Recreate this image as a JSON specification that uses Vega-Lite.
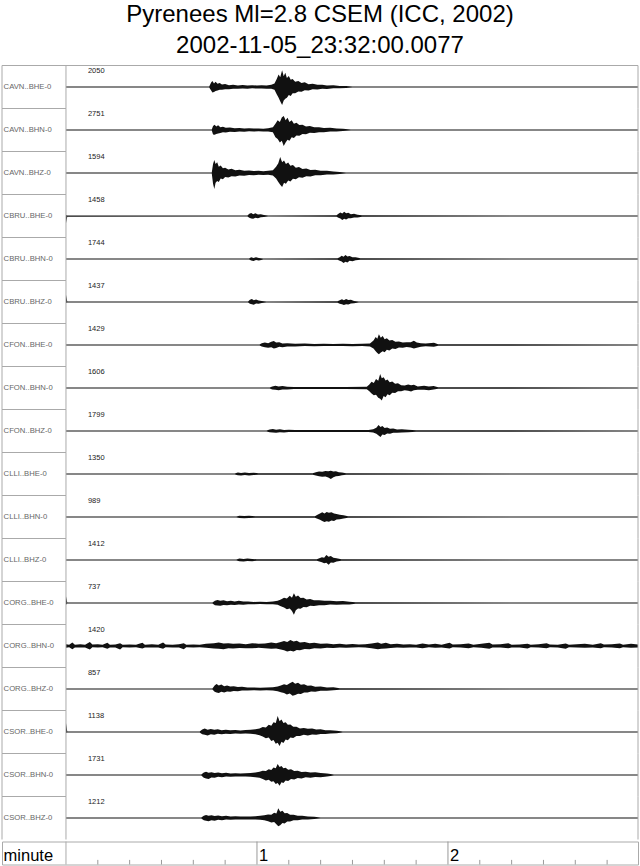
{
  "$schema": "https://vega.github.io/schema/vega-lite/v6.json",
  "padding": {"left": 1, "top": 2.5, "right": 3, "bottom": 2},
  "background": "white",
  "title": {
    "text": ["Pyrenees Ml=2.8 CSEM (ICC, 2002)", "2002-11-05_23:32:00.0077"],
    "font": "Liberation Sans",
    "fontSize": 24,
    "fontWeight": "normal",
    "color": "black",
    "lineHeight": 30.5,
    "anchor": "middle",
    "offset": 7.5
  },
  "config": {
    "view": {"stroke": null},
    "text": {"font": "Liberation Sans"}
  },
  "datasets": {
    "traces": [
      {"s": "CAVN..BHE-0", "n": 2050},
      {"s": "CAVN..BHN-0", "n": 2751},
      {"s": "CAVN..BHZ-0", "n": 1594},
      {"s": "CBRU..BHE-0", "n": 1458},
      {"s": "CBRU..BHN-0", "n": 1744},
      {"s": "CBRU..BHZ-0", "n": 1437},
      {"s": "CFON..BHE-0", "n": 1429},
      {"s": "CFON..BHN-0", "n": 1606},
      {"s": "CFON..BHZ-0", "n": 1799},
      {"s": "CLLI..BHE-0", "n": 1350},
      {"s": "CLLI..BHN-0", "n": 989},
      {"s": "CLLI..BHZ-0", "n": 1412},
      {"s": "CORG..BHE-0", "n": 737},
      {"s": "CORG..BHN-0", "n": 1420},
      {"s": "CORG..BHZ-0", "n": 857},
      {"s": "CSOR..BHE-0", "n": 1138},
      {"s": "CSOR..BHN-0", "n": 1731},
      {"s": "CSOR..BHZ-0", "n": 1212},

      {"s": "CAVN..BHE-0", "t": 0, "h": 0.03, "l": -0.03},
      {"s": "CAVN..BHE-0", "t": 45.0, "h": 0.03, "l": -0.03},
      {"s": "CAVN..BHE-0", "t": 45.6, "h": 0.25, "l": -0.2},
      {"s": "CAVN..BHE-0", "t": 46.0, "h": 0.33, "l": -0.3},
      {"s": "CAVN..BHE-0", "t": 46.5, "h": 0.2, "l": -0.28},
      {"s": "CAVN..BHE-0", "t": 47.0, "h": 0.3, "l": -0.22},
      {"s": "CAVN..BHE-0", "t": 47.6, "h": 0.18, "l": -0.2},
      {"s": "CAVN..BHE-0", "t": 48.3, "h": 0.22, "l": -0.15},
      {"s": "CAVN..BHE-0", "t": 49.0, "h": 0.14, "l": -0.16},
      {"s": "CAVN..BHE-0", "t": 50.0, "h": 0.17, "l": -0.12},
      {"s": "CAVN..BHE-0", "t": 51.2, "h": 0.1, "l": -0.13},
      {"s": "CAVN..BHE-0", "t": 52.5, "h": 0.13, "l": -0.1},
      {"s": "CAVN..BHE-0", "t": 54.0, "h": 0.09, "l": -0.1},
      {"s": "CAVN..BHE-0", "t": 55.5, "h": 0.11, "l": -0.08},
      {"s": "CAVN..BHE-0", "t": 57.0, "h": 0.08, "l": -0.1},
      {"s": "CAVN..BHE-0", "t": 58.5, "h": 0.1, "l": -0.07},
      {"s": "CAVN..BHE-0", "t": 60.0, "h": 0.08, "l": -0.09},
      {"s": "CAVN..BHE-0", "t": 61.5, "h": 0.1, "l": -0.08},
      {"s": "CAVN..BHE-0", "t": 63.0, "h": 0.09, "l": -0.1},
      {"s": "CAVN..BHE-0", "t": 64.5, "h": 0.12, "l": -0.1},
      {"s": "CAVN..BHE-0", "t": 65.5, "h": 0.2, "l": -0.15},
      {"s": "CAVN..BHE-0", "t": 66.2, "h": 0.45, "l": -0.4},
      {"s": "CAVN..BHE-0", "t": 66.8, "h": 0.7, "l": -0.6},
      {"s": "CAVN..BHE-0", "t": 67.3, "h": 0.55, "l": -0.8},
      {"s": "CAVN..BHE-0", "t": 67.9, "h": 0.94, "l": -1.0},
      {"s": "CAVN..BHE-0", "t": 68.4, "h": 0.6, "l": -0.75},
      {"s": "CAVN..BHE-0", "t": 68.9, "h": 0.8, "l": -0.65},
      {"s": "CAVN..BHE-0", "t": 69.4, "h": 0.5, "l": -0.6},
      {"s": "CAVN..BHE-0", "t": 70.0, "h": 0.62, "l": -0.45},
      {"s": "CAVN..BHE-0", "t": 70.6, "h": 0.4, "l": -0.5},
      {"s": "CAVN..BHE-0", "t": 71.2, "h": 0.45, "l": -0.35},
      {"s": "CAVN..BHE-0", "t": 72.0, "h": 0.3, "l": -0.35},
      {"s": "CAVN..BHE-0", "t": 73.0, "h": 0.33, "l": -0.25},
      {"s": "CAVN..BHE-0", "t": 74.0, "h": 0.22, "l": -0.26},
      {"s": "CAVN..BHE-0", "t": 75.0, "h": 0.26, "l": -0.18},
      {"s": "CAVN..BHE-0", "t": 76.2, "h": 0.16, "l": -0.2},
      {"s": "CAVN..BHE-0", "t": 77.5, "h": 0.18, "l": -0.13},
      {"s": "CAVN..BHE-0", "t": 79.0, "h": 0.12, "l": -0.14},
      {"s": "CAVN..BHE-0", "t": 80.5, "h": 0.13, "l": -0.1},
      {"s": "CAVN..BHE-0", "t": 82.0, "h": 0.09, "l": -0.11},
      {"s": "CAVN..BHE-0", "t": 84.0, "h": 0.1, "l": -0.07},
      {"s": "CAVN..BHE-0", "t": 86.0, "h": 0.06, "l": -0.07},
      {"s": "CAVN..BHE-0", "t": 88.0, "h": 0.05, "l": -0.05},
      {"s": "CAVN..BHE-0", "t": 90.0, "h": 0.03, "l": -0.03},
      {"s": "CAVN..BHE-0", "t": 179.7, "h": 0.03, "l": -0.03},

      {"s": "CAVN..BHN-0", "t": 0, "h": 0.03, "l": -0.03},
      {"s": "CAVN..BHN-0", "t": 45.8, "h": 0.03, "l": -0.03},
      {"s": "CAVN..BHN-0", "t": 46.2, "h": 0.22, "l": -0.25},
      {"s": "CAVN..BHN-0", "t": 46.7, "h": 0.3, "l": -0.27},
      {"s": "CAVN..BHN-0", "t": 47.2, "h": 0.2, "l": -0.22},
      {"s": "CAVN..BHN-0", "t": 47.8, "h": 0.26, "l": -0.2},
      {"s": "CAVN..BHN-0", "t": 48.5, "h": 0.15, "l": -0.17},
      {"s": "CAVN..BHN-0", "t": 49.3, "h": 0.18, "l": -0.13},
      {"s": "CAVN..BHN-0", "t": 50.2, "h": 0.12, "l": -0.14},
      {"s": "CAVN..BHN-0", "t": 51.5, "h": 0.14, "l": -0.1},
      {"s": "CAVN..BHN-0", "t": 53.0, "h": 0.1, "l": -0.11},
      {"s": "CAVN..BHN-0", "t": 54.5, "h": 0.11, "l": -0.08},
      {"s": "CAVN..BHN-0", "t": 56.0, "h": 0.08, "l": -0.1},
      {"s": "CAVN..BHN-0", "t": 57.5, "h": 0.1, "l": -0.07},
      {"s": "CAVN..BHN-0", "t": 59.0, "h": 0.08, "l": -0.09},
      {"s": "CAVN..BHN-0", "t": 60.5, "h": 0.09, "l": -0.07},
      {"s": "CAVN..BHN-0", "t": 62.0, "h": 0.07, "l": -0.08},
      {"s": "CAVN..BHN-0", "t": 63.5, "h": 0.1, "l": -0.08},
      {"s": "CAVN..BHN-0", "t": 65.0, "h": 0.15, "l": -0.12},
      {"s": "CAVN..BHN-0", "t": 65.8, "h": 0.35, "l": -0.4},
      {"s": "CAVN..BHN-0", "t": 66.5, "h": 0.55, "l": -0.5},
      {"s": "CAVN..BHN-0", "t": 67.2, "h": 0.45, "l": -0.7},
      {"s": "CAVN..BHN-0", "t": 67.8, "h": 0.7, "l": -0.6},
      {"s": "CAVN..BHN-0", "t": 68.4, "h": 0.78, "l": -0.89},
      {"s": "CAVN..BHN-0", "t": 69.0, "h": 0.55, "l": -0.7},
      {"s": "CAVN..BHN-0", "t": 69.6, "h": 0.68, "l": -0.55},
      {"s": "CAVN..BHN-0", "t": 70.2, "h": 0.45, "l": -0.6},
      {"s": "CAVN..BHN-0", "t": 70.9, "h": 0.55, "l": -0.4},
      {"s": "CAVN..BHN-0", "t": 71.6, "h": 0.35, "l": -0.45},
      {"s": "CAVN..BHN-0", "t": 72.4, "h": 0.4, "l": -0.3},
      {"s": "CAVN..BHN-0", "t": 73.3, "h": 0.28, "l": -0.32},
      {"s": "CAVN..BHN-0", "t": 74.3, "h": 0.3, "l": -0.22},
      {"s": "CAVN..BHN-0", "t": 75.4, "h": 0.2, "l": -0.24},
      {"s": "CAVN..BHN-0", "t": 76.6, "h": 0.22, "l": -0.16},
      {"s": "CAVN..BHN-0", "t": 78.0, "h": 0.15, "l": -0.17},
      {"s": "CAVN..BHN-0", "t": 79.5, "h": 0.16, "l": -0.12},
      {"s": "CAVN..BHN-0", "t": 81.0, "h": 0.11, "l": -0.13},
      {"s": "CAVN..BHN-0", "t": 83.0, "h": 0.12, "l": -0.09},
      {"s": "CAVN..BHN-0", "t": 85.0, "h": 0.08, "l": -0.09},
      {"s": "CAVN..BHN-0", "t": 87.0, "h": 0.07, "l": -0.06},
      {"s": "CAVN..BHN-0", "t": 89.5, "h": 0.03, "l": -0.03},
      {"s": "CAVN..BHN-0", "t": 179.7, "h": 0.03, "l": -0.03},

      {"s": "CAVN..BHZ-0", "t": 0, "h": 0.03, "l": -0.03},
      {"s": "CAVN..BHZ-0", "t": 45.8, "h": 0.03, "l": -0.03},
      {"s": "CAVN..BHZ-0", "t": 46.2, "h": 0.5, "l": -0.6},
      {"s": "CAVN..BHZ-0", "t": 46.6, "h": 0.72, "l": -0.89},
      {"s": "CAVN..BHZ-0", "t": 47.0, "h": 0.5, "l": -0.55},
      {"s": "CAVN..BHZ-0", "t": 47.5, "h": 0.6, "l": -0.45},
      {"s": "CAVN..BHZ-0", "t": 48.0, "h": 0.35, "l": -0.5},
      {"s": "CAVN..BHZ-0", "t": 48.6, "h": 0.42, "l": -0.3},
      {"s": "CAVN..BHZ-0", "t": 49.3, "h": 0.27, "l": -0.35},
      {"s": "CAVN..BHZ-0", "t": 50.0, "h": 0.3, "l": -0.22},
      {"s": "CAVN..BHZ-0", "t": 51.0, "h": 0.2, "l": -0.25},
      {"s": "CAVN..BHZ-0", "t": 52.0, "h": 0.24, "l": -0.18},
      {"s": "CAVN..BHZ-0", "t": 53.2, "h": 0.16, "l": -0.19},
      {"s": "CAVN..BHZ-0", "t": 54.5, "h": 0.18, "l": -0.14},
      {"s": "CAVN..BHZ-0", "t": 56.0, "h": 0.13, "l": -0.15},
      {"s": "CAVN..BHZ-0", "t": 57.5, "h": 0.14, "l": -0.11},
      {"s": "CAVN..BHZ-0", "t": 59.0, "h": 0.11, "l": -0.12},
      {"s": "CAVN..BHZ-0", "t": 60.5, "h": 0.12, "l": -0.1},
      {"s": "CAVN..BHZ-0", "t": 62.0, "h": 0.1, "l": -0.11},
      {"s": "CAVN..BHZ-0", "t": 63.5, "h": 0.12, "l": -0.1},
      {"s": "CAVN..BHZ-0", "t": 65.0, "h": 0.16, "l": -0.14},
      {"s": "CAVN..BHZ-0", "t": 66.0, "h": 0.35, "l": -0.3},
      {"s": "CAVN..BHZ-0", "t": 66.7, "h": 0.55, "l": -0.5},
      {"s": "CAVN..BHZ-0", "t": 67.3, "h": 0.89, "l": -0.65},
      {"s": "CAVN..BHZ-0", "t": 67.9, "h": 0.6, "l": -0.78},
      {"s": "CAVN..BHZ-0", "t": 68.5, "h": 0.7, "l": -0.55},
      {"s": "CAVN..BHZ-0", "t": 69.1, "h": 0.5, "l": -0.6},
      {"s": "CAVN..BHZ-0", "t": 69.8, "h": 0.58, "l": -0.42},
      {"s": "CAVN..BHZ-0", "t": 70.5, "h": 0.4, "l": -0.48},
      {"s": "CAVN..BHZ-0", "t": 71.3, "h": 0.45, "l": -0.32},
      {"s": "CAVN..BHZ-0", "t": 72.2, "h": 0.3, "l": -0.35},
      {"s": "CAVN..BHZ-0", "t": 73.2, "h": 0.33, "l": -0.24},
      {"s": "CAVN..BHZ-0", "t": 74.3, "h": 0.23, "l": -0.26},
      {"s": "CAVN..BHZ-0", "t": 75.5, "h": 0.25, "l": -0.18},
      {"s": "CAVN..BHZ-0", "t": 76.8, "h": 0.17, "l": -0.19},
      {"s": "CAVN..BHZ-0", "t": 78.3, "h": 0.18, "l": -0.13},
      {"s": "CAVN..BHZ-0", "t": 80.0, "h": 0.12, "l": -0.13},
      {"s": "CAVN..BHZ-0", "t": 82.0, "h": 0.12, "l": -0.09},
      {"s": "CAVN..BHZ-0", "t": 84.0, "h": 0.08, "l": -0.09},
      {"s": "CAVN..BHZ-0", "t": 86.0, "h": 0.06, "l": -0.06},
      {"s": "CAVN..BHZ-0", "t": 88.0, "h": 0.03, "l": -0.03},
      {"s": "CAVN..BHZ-0", "t": 179.7, "h": 0.03, "l": -0.03},

      {"s": "CBRU..BHE-0", "t": 0, "h": 0.05, "l": -0.4},
      {"s": "CBRU..BHE-0", "t": 0.4, "h": 0.03, "l": -0.04},
      {"s": "CBRU..BHE-0", "t": 57.0, "h": 0.03, "l": -0.03},
      {"s": "CBRU..BHE-0", "t": 57.6, "h": 0.12, "l": -0.1},
      {"s": "CBRU..BHE-0", "t": 58.2, "h": 0.17, "l": -0.14},
      {"s": "CBRU..BHE-0", "t": 58.8, "h": 0.1, "l": -0.16},
      {"s": "CBRU..BHE-0", "t": 59.5, "h": 0.15, "l": -0.1},
      {"s": "CBRU..BHE-0", "t": 60.3, "h": 0.08, "l": -0.12},
      {"s": "CBRU..BHE-0", "t": 61.2, "h": 0.1, "l": -0.07},
      {"s": "CBRU..BHE-0", "t": 62.2, "h": 0.05, "l": -0.06},
      {"s": "CBRU..BHE-0", "t": 63.5, "h": 0.03, "l": -0.03},
      {"s": "CBRU..BHE-0", "t": 85.0, "h": 0.04, "l": -0.04},
      {"s": "CBRU..BHE-0", "t": 85.6, "h": 0.12, "l": -0.1},
      {"s": "CBRU..BHE-0", "t": 86.2, "h": 0.2, "l": -0.14},
      {"s": "CBRU..BHE-0", "t": 86.8, "h": 0.14, "l": -0.22},
      {"s": "CBRU..BHE-0", "t": 87.4, "h": 0.24, "l": -0.16},
      {"s": "CBRU..BHE-0", "t": 88.0, "h": 0.15, "l": -0.2},
      {"s": "CBRU..BHE-0", "t": 88.7, "h": 0.18, "l": -0.12},
      {"s": "CBRU..BHE-0", "t": 89.5, "h": 0.1, "l": -0.13},
      {"s": "CBRU..BHE-0", "t": 90.5, "h": 0.12, "l": -0.08},
      {"s": "CBRU..BHE-0", "t": 91.6, "h": 0.07, "l": -0.08},
      {"s": "CBRU..BHE-0", "t": 93.0, "h": 0.04, "l": -0.04},
      {"s": "CBRU..BHE-0", "t": 179.7, "h": 0.03, "l": -0.03},

      {"s": "CBRU..BHN-0", "t": 0, "h": 0.03, "l": -0.03},
      {"s": "CBRU..BHN-0", "t": 57.5, "h": 0.03, "l": -0.03},
      {"s": "CBRU..BHN-0", "t": 58.2, "h": 0.1, "l": -0.08},
      {"s": "CBRU..BHN-0", "t": 58.9, "h": 0.06, "l": -0.11},
      {"s": "CBRU..BHN-0", "t": 59.7, "h": 0.1, "l": -0.06},
      {"s": "CBRU..BHN-0", "t": 60.6, "h": 0.05, "l": -0.08},
      {"s": "CBRU..BHN-0", "t": 62.0, "h": 0.03, "l": -0.03},
      {"s": "CBRU..BHN-0", "t": 85.3, "h": 0.04, "l": -0.04},
      {"s": "CBRU..BHN-0", "t": 86.0, "h": 0.1, "l": -0.1},
      {"s": "CBRU..BHN-0", "t": 86.6, "h": 0.18, "l": -0.14},
      {"s": "CBRU..BHN-0", "t": 87.2, "h": 0.12, "l": -0.22},
      {"s": "CBRU..BHN-0", "t": 87.8, "h": 0.22, "l": -0.15},
      {"s": "CBRU..BHN-0", "t": 88.4, "h": 0.14, "l": -0.2},
      {"s": "CBRU..BHN-0", "t": 89.1, "h": 0.17, "l": -0.1},
      {"s": "CBRU..BHN-0", "t": 90.0, "h": 0.1, "l": -0.12},
      {"s": "CBRU..BHN-0", "t": 91.0, "h": 0.1, "l": -0.07},
      {"s": "CBRU..BHN-0", "t": 92.5, "h": 0.04, "l": -0.04},
      {"s": "CBRU..BHN-0", "t": 179.7, "h": 0.03, "l": -0.03},

      {"s": "CBRU..BHZ-0", "t": 0, "h": 0.4, "l": -0.05},
      {"s": "CBRU..BHZ-0", "t": 0.4, "h": 0.03, "l": -0.03},
      {"s": "CBRU..BHZ-0", "t": 57.2, "h": 0.03, "l": -0.03},
      {"s": "CBRU..BHZ-0", "t": 57.8, "h": 0.12, "l": -0.1},
      {"s": "CBRU..BHZ-0", "t": 58.4, "h": 0.17, "l": -0.12},
      {"s": "CBRU..BHZ-0", "t": 59.0, "h": 0.1, "l": -0.16},
      {"s": "CBRU..BHZ-0", "t": 59.7, "h": 0.14, "l": -0.09},
      {"s": "CBRU..BHZ-0", "t": 60.5, "h": 0.08, "l": -0.1},
      {"s": "CBRU..BHZ-0", "t": 61.5, "h": 0.05, "l": -0.06},
      {"s": "CBRU..BHZ-0", "t": 63.0, "h": 0.03, "l": -0.03},
      {"s": "CBRU..BHZ-0", "t": 85.3, "h": 0.04, "l": -0.04},
      {"s": "CBRU..BHZ-0", "t": 86.0, "h": 0.1, "l": -0.1},
      {"s": "CBRU..BHZ-0", "t": 86.7, "h": 0.15, "l": -0.12},
      {"s": "CBRU..BHZ-0", "t": 87.3, "h": 0.1, "l": -0.17},
      {"s": "CBRU..BHZ-0", "t": 88.0, "h": 0.17, "l": -0.12},
      {"s": "CBRU..BHZ-0", "t": 88.7, "h": 0.11, "l": -0.14},
      {"s": "CBRU..BHZ-0", "t": 89.5, "h": 0.12, "l": -0.08},
      {"s": "CBRU..BHZ-0", "t": 90.5, "h": 0.06, "l": -0.07},
      {"s": "CBRU..BHZ-0", "t": 92.0, "h": 0.03, "l": -0.03},
      {"s": "CBRU..BHZ-0", "t": 179.7, "h": 0.03, "l": -0.03},

      {"s": "CFON..BHE-0", "t": 0, "h": 0.03, "l": -0.03},
      {"s": "CFON..BHE-0", "t": 60.8, "h": 0.03, "l": -0.03},
      {"s": "CFON..BHE-0", "t": 61.5, "h": 0.1, "l": -0.08},
      {"s": "CFON..BHE-0", "t": 62.5, "h": 0.14, "l": -0.12},
      {"s": "CFON..BHE-0", "t": 63.5, "h": 0.1, "l": -0.15},
      {"s": "CFON..BHE-0", "t": 64.5, "h": 0.18, "l": -0.12},
      {"s": "CFON..BHE-0", "t": 65.3, "h": 0.22, "l": -0.2},
      {"s": "CFON..BHE-0", "t": 66.0, "h": 0.14, "l": -0.17},
      {"s": "CFON..BHE-0", "t": 67.0, "h": 0.15, "l": -0.1},
      {"s": "CFON..BHE-0", "t": 68.0, "h": 0.09, "l": -0.12},
      {"s": "CFON..BHE-0", "t": 69.5, "h": 0.1, "l": -0.08},
      {"s": "CFON..BHE-0", "t": 72.0, "h": 0.07, "l": -0.08},
      {"s": "CFON..BHE-0", "t": 75.0, "h": 0.08, "l": -0.06},
      {"s": "CFON..BHE-0", "t": 78.0, "h": 0.06, "l": -0.07},
      {"s": "CFON..BHE-0", "t": 81.0, "h": 0.07, "l": -0.06},
      {"s": "CFON..BHE-0", "t": 84.0, "h": 0.06, "l": -0.06},
      {"s": "CFON..BHE-0", "t": 87.0, "h": 0.07, "l": -0.06},
      {"s": "CFON..BHE-0", "t": 90.0, "h": 0.06, "l": -0.07},
      {"s": "CFON..BHE-0", "t": 93.0, "h": 0.07, "l": -0.06},
      {"s": "CFON..BHE-0", "t": 95.5, "h": 0.09, "l": -0.08},
      {"s": "CFON..BHE-0", "t": 96.6, "h": 0.25, "l": -0.2},
      {"s": "CFON..BHE-0", "t": 97.3, "h": 0.45, "l": -0.35},
      {"s": "CFON..BHE-0", "t": 97.8, "h": 0.35, "l": -0.45},
      {"s": "CFON..BHE-0", "t": 98.3, "h": 0.6, "l": -0.52},
      {"s": "CFON..BHE-0", "t": 98.9, "h": 0.4, "l": -0.42},
      {"s": "CFON..BHE-0", "t": 99.5, "h": 0.5, "l": -0.35},
      {"s": "CFON..BHE-0", "t": 100.1, "h": 0.32, "l": -0.4},
      {"s": "CFON..BHE-0", "t": 100.8, "h": 0.38, "l": -0.26},
      {"s": "CFON..BHE-0", "t": 101.6, "h": 0.25, "l": -0.3},
      {"s": "CFON..BHE-0", "t": 102.5, "h": 0.28, "l": -0.2},
      {"s": "CFON..BHE-0", "t": 103.5, "h": 0.18, "l": -0.22},
      {"s": "CFON..BHE-0", "t": 104.6, "h": 0.2, "l": -0.14},
      {"s": "CFON..BHE-0", "t": 105.8, "h": 0.14, "l": -0.16},
      {"s": "CFON..BHE-0", "t": 107.0, "h": 0.15, "l": -0.11},
      {"s": "CFON..BHE-0", "t": 108.3, "h": 0.16, "l": -0.14},
      {"s": "CFON..BHE-0", "t": 109.3, "h": 0.24, "l": -0.2},
      {"s": "CFON..BHE-0", "t": 110.2, "h": 0.14, "l": -0.16},
      {"s": "CFON..BHE-0", "t": 111.5, "h": 0.1, "l": -0.1},
      {"s": "CFON..BHE-0", "t": 113.0, "h": 0.08, "l": -0.07},
      {"s": "CFON..BHE-0", "t": 115.6, "h": 0.13, "l": -0.1},
      {"s": "CFON..BHE-0", "t": 116.9, "h": 0.04, "l": -0.04},
      {"s": "CFON..BHE-0", "t": 179.7, "h": 0.03, "l": -0.03},

      {"s": "CFON..BHN-0", "t": 0, "h": 0.03, "l": -0.03},
      {"s": "CFON..BHN-0", "t": 64.0, "h": 0.03, "l": -0.03},
      {"s": "CFON..BHN-0", "t": 64.8, "h": 0.09, "l": -0.08},
      {"s": "CFON..BHN-0", "t": 65.8, "h": 0.12, "l": -0.1},
      {"s": "CFON..BHN-0", "t": 66.8, "h": 0.08, "l": -0.12},
      {"s": "CFON..BHN-0", "t": 68.0, "h": 0.11, "l": -0.08},
      {"s": "CFON..BHN-0", "t": 69.5, "h": 0.07, "l": -0.09},
      {"s": "CFON..BHN-0", "t": 71.6, "h": 0.05, "l": -0.05},
      {"s": "CFON..BHN-0", "t": 80.0, "h": 0.06, "l": -0.06},
      {"s": "CFON..BHN-0", "t": 88.0, "h": 0.06, "l": -0.05},
      {"s": "CFON..BHN-0", "t": 94.5, "h": 0.07, "l": -0.07},
      {"s": "CFON..BHN-0", "t": 95.3, "h": 0.2, "l": -0.18},
      {"s": "CFON..BHN-0", "t": 96.0, "h": 0.35, "l": -0.3},
      {"s": "CFON..BHN-0", "t": 96.7, "h": 0.28, "l": -0.4},
      {"s": "CFON..BHN-0", "t": 97.4, "h": 0.5, "l": -0.38},
      {"s": "CFON..BHN-0", "t": 98.1, "h": 0.4, "l": -0.55},
      {"s": "CFON..BHN-0", "t": 98.7, "h": 0.78, "l": -0.6},
      {"s": "CFON..BHN-0", "t": 99.2, "h": 0.55, "l": -0.7},
      {"s": "CFON..BHN-0", "t": 99.8, "h": 0.6, "l": -0.45},
      {"s": "CFON..BHN-0", "t": 100.4, "h": 0.42, "l": -0.52},
      {"s": "CFON..BHN-0", "t": 101.0, "h": 0.48, "l": -0.35},
      {"s": "CFON..BHN-0", "t": 101.7, "h": 0.32, "l": -0.4},
      {"s": "CFON..BHN-0", "t": 102.5, "h": 0.36, "l": -0.26},
      {"s": "CFON..BHN-0", "t": 103.4, "h": 0.24, "l": -0.28},
      {"s": "CFON..BHN-0", "t": 104.3, "h": 0.26, "l": -0.18},
      {"s": "CFON..BHN-0", "t": 105.3, "h": 0.16, "l": -0.18},
      {"s": "CFON..BHN-0", "t": 106.4, "h": 0.14, "l": -0.12},
      {"s": "CFON..BHN-0", "t": 107.5, "h": 0.2, "l": -0.16},
      {"s": "CFON..BHN-0", "t": 108.4, "h": 0.15, "l": -0.2},
      {"s": "CFON..BHN-0", "t": 109.3, "h": 0.18, "l": -0.12},
      {"s": "CFON..BHN-0", "t": 110.5, "h": 0.09, "l": -0.1},
      {"s": "CFON..BHN-0", "t": 112.5, "h": 0.12, "l": -0.1},
      {"s": "CFON..BHN-0", "t": 114.0, "h": 0.08, "l": -0.12},
      {"s": "CFON..BHN-0", "t": 115.5, "h": 0.11, "l": -0.08},
      {"s": "CFON..BHN-0", "t": 116.9, "h": 0.04, "l": -0.04},
      {"s": "CFON..BHN-0", "t": 179.7, "h": 0.03, "l": -0.03},

      {"s": "CFON..BHZ-0", "t": 0, "h": 0.03, "l": -0.03},
      {"s": "CFON..BHZ-0", "t": 63.0, "h": 0.03, "l": -0.03},
      {"s": "CFON..BHZ-0", "t": 64.0, "h": 0.08, "l": -0.07},
      {"s": "CFON..BHZ-0", "t": 65.0, "h": 0.11, "l": -0.09},
      {"s": "CFON..BHZ-0", "t": 66.0, "h": 0.07, "l": -0.1},
      {"s": "CFON..BHZ-0", "t": 67.2, "h": 0.1, "l": -0.07},
      {"s": "CFON..BHZ-0", "t": 68.5, "h": 0.06, "l": -0.08},
      {"s": "CFON..BHZ-0", "t": 70.0, "h": 0.07, "l": -0.06},
      {"s": "CFON..BHZ-0", "t": 72.0, "h": 0.05, "l": -0.05},
      {"s": "CFON..BHZ-0", "t": 85.0, "h": 0.06, "l": -0.06},
      {"s": "CFON..BHZ-0", "t": 95.0, "h": 0.06, "l": -0.06},
      {"s": "CFON..BHZ-0", "t": 96.5, "h": 0.1, "l": -0.09},
      {"s": "CFON..BHZ-0", "t": 97.5, "h": 0.18, "l": -0.15},
      {"s": "CFON..BHZ-0", "t": 98.2, "h": 0.33, "l": -0.25},
      {"s": "CFON..BHZ-0", "t": 98.8, "h": 0.22, "l": -0.33},
      {"s": "CFON..BHZ-0", "t": 99.4, "h": 0.28, "l": -0.2},
      {"s": "CFON..BHZ-0", "t": 100.1, "h": 0.17, "l": -0.22},
      {"s": "CFON..BHZ-0", "t": 100.9, "h": 0.2, "l": -0.14},
      {"s": "CFON..BHZ-0", "t": 101.8, "h": 0.13, "l": -0.15},
      {"s": "CFON..BHZ-0", "t": 102.8, "h": 0.14, "l": -0.1},
      {"s": "CFON..BHZ-0", "t": 104.0, "h": 0.09, "l": -0.1},
      {"s": "CFON..BHZ-0", "t": 105.5, "h": 0.1, "l": -0.08},
      {"s": "CFON..BHZ-0", "t": 107.5, "h": 0.07, "l": -0.07},
      {"s": "CFON..BHZ-0", "t": 110.0, "h": 0.04, "l": -0.04},
      {"s": "CFON..BHZ-0", "t": 179.7, "h": 0.03, "l": -0.03},

      {"s": "CLLI..BHE-0", "t": 0, "h": 0.03, "l": -0.03},
      {"s": "CLLI..BHE-0", "t": 53.0, "h": 0.03, "l": -0.03},
      {"s": "CLLI..BHE-0", "t": 54.0, "h": 0.08, "l": -0.07},
      {"s": "CLLI..BHE-0", "t": 55.0, "h": 0.06, "l": -0.09},
      {"s": "CLLI..BHE-0", "t": 56.2, "h": 0.09, "l": -0.06},
      {"s": "CLLI..BHE-0", "t": 57.5, "h": 0.06, "l": -0.08},
      {"s": "CLLI..BHE-0", "t": 59.0, "h": 0.07, "l": -0.06},
      {"s": "CLLI..BHE-0", "t": 60.5, "h": 0.04, "l": -0.04},
      {"s": "CLLI..BHE-0", "t": 77.5, "h": 0.04, "l": -0.04},
      {"s": "CLLI..BHE-0", "t": 78.5, "h": 0.1, "l": -0.09},
      {"s": "CLLI..BHE-0", "t": 79.5, "h": 0.14, "l": -0.12},
      {"s": "CLLI..BHE-0", "t": 80.5, "h": 0.12, "l": -0.15},
      {"s": "CLLI..BHE-0", "t": 81.5, "h": 0.17, "l": -0.14},
      {"s": "CLLI..BHE-0", "t": 82.4, "h": 0.15, "l": -0.2},
      {"s": "CLLI..BHE-0", "t": 83.2, "h": 0.18, "l": -0.28},
      {"s": "CLLI..BHE-0", "t": 84.0, "h": 0.14, "l": -0.18},
      {"s": "CLLI..BHE-0", "t": 84.8, "h": 0.16, "l": -0.12},
      {"s": "CLLI..BHE-0", "t": 85.7, "h": 0.1, "l": -0.11},
      {"s": "CLLI..BHE-0", "t": 86.7, "h": 0.09, "l": -0.07},
      {"s": "CLLI..BHE-0", "t": 88.0, "h": 0.04, "l": -0.04},
      {"s": "CLLI..BHE-0", "t": 179.7, "h": 0.03, "l": -0.03},

      {"s": "CLLI..BHN-0", "t": 0, "h": 0.03, "l": -0.03},
      {"s": "CLLI..BHN-0", "t": 53.5, "h": 0.03, "l": -0.03},
      {"s": "CLLI..BHN-0", "t": 54.5, "h": 0.07, "l": -0.06},
      {"s": "CLLI..BHN-0", "t": 56.0, "h": 0.05, "l": -0.07},
      {"s": "CLLI..BHN-0", "t": 57.5, "h": 0.07, "l": -0.05},
      {"s": "CLLI..BHN-0", "t": 59.5, "h": 0.04, "l": -0.04},
      {"s": "CLLI..BHN-0", "t": 78.2, "h": 0.04, "l": -0.04},
      {"s": "CLLI..BHN-0", "t": 79.0, "h": 0.12, "l": -0.1},
      {"s": "CLLI..BHN-0", "t": 79.8, "h": 0.2, "l": -0.16},
      {"s": "CLLI..BHN-0", "t": 80.5, "h": 0.26, "l": -0.22},
      {"s": "CLLI..BHN-0", "t": 81.2, "h": 0.2, "l": -0.28},
      {"s": "CLLI..BHN-0", "t": 81.9, "h": 0.28, "l": -0.24},
      {"s": "CLLI..BHN-0", "t": 82.6, "h": 0.24, "l": -0.26},
      {"s": "CLLI..BHN-0", "t": 83.4, "h": 0.27, "l": -0.2},
      {"s": "CLLI..BHN-0", "t": 84.2, "h": 0.2, "l": -0.23},
      {"s": "CLLI..BHN-0", "t": 85.0, "h": 0.17, "l": -0.14},
      {"s": "CLLI..BHN-0", "t": 86.0, "h": 0.12, "l": -0.13},
      {"s": "CLLI..BHN-0", "t": 87.2, "h": 0.1, "l": -0.08},
      {"s": "CLLI..BHN-0", "t": 88.6, "h": 0.04, "l": -0.04},
      {"s": "CLLI..BHN-0", "t": 179.7, "h": 0.03, "l": -0.03},

      {"s": "CLLI..BHZ-0", "t": 0, "h": 0.03, "l": -0.03},
      {"s": "CLLI..BHZ-0", "t": 53.5, "h": 0.03, "l": -0.03},
      {"s": "CLLI..BHZ-0", "t": 54.5, "h": 0.08, "l": -0.07},
      {"s": "CLLI..BHZ-0", "t": 55.8, "h": 0.06, "l": -0.09},
      {"s": "CLLI..BHZ-0", "t": 57.0, "h": 0.08, "l": -0.06},
      {"s": "CLLI..BHZ-0", "t": 58.5, "h": 0.06, "l": -0.07},
      {"s": "CLLI..BHZ-0", "t": 60.0, "h": 0.04, "l": -0.04},
      {"s": "CLLI..BHZ-0", "t": 78.8, "h": 0.04, "l": -0.04},
      {"s": "CLLI..BHZ-0", "t": 79.6, "h": 0.1, "l": -0.09},
      {"s": "CLLI..BHZ-0", "t": 80.4, "h": 0.16, "l": -0.12},
      {"s": "CLLI..BHZ-0", "t": 81.1, "h": 0.12, "l": -0.18},
      {"s": "CLLI..BHZ-0", "t": 81.8, "h": 0.28, "l": -0.15},
      {"s": "CLLI..BHZ-0", "t": 82.5, "h": 0.18, "l": -0.26},
      {"s": "CLLI..BHZ-0", "t": 83.2, "h": 0.22, "l": -0.14},
      {"s": "CLLI..BHZ-0", "t": 84.0, "h": 0.12, "l": -0.15},
      {"s": "CLLI..BHZ-0", "t": 85.0, "h": 0.1, "l": -0.08},
      {"s": "CLLI..BHZ-0", "t": 86.5, "h": 0.04, "l": -0.04},
      {"s": "CLLI..BHZ-0", "t": 179.7, "h": 0.03, "l": -0.03},

      {"s": "CORG..BHE-0", "t": 0, "h": 0.38, "l": -0.1},
      {"s": "CORG..BHE-0", "t": 0.4, "h": 0.03, "l": -0.03},
      {"s": "CORG..BHE-0", "t": 46.0, "h": 0.03, "l": -0.03},
      {"s": "CORG..BHE-0", "t": 46.8, "h": 0.13, "l": -0.12},
      {"s": "CORG..BHE-0", "t": 47.6, "h": 0.17, "l": -0.14},
      {"s": "CORG..BHE-0", "t": 48.5, "h": 0.12, "l": -0.16},
      {"s": "CORG..BHE-0", "t": 49.5, "h": 0.15, "l": -0.11},
      {"s": "CORG..BHE-0", "t": 50.6, "h": 0.1, "l": -0.13},
      {"s": "CORG..BHE-0", "t": 51.8, "h": 0.13, "l": -0.1},
      {"s": "CORG..BHE-0", "t": 53.0, "h": 0.09, "l": -0.11},
      {"s": "CORG..BHE-0", "t": 54.3, "h": 0.12, "l": -0.08},
      {"s": "CORG..BHE-0", "t": 55.7, "h": 0.08, "l": -0.1},
      {"s": "CORG..BHE-0", "t": 57.2, "h": 0.09, "l": -0.07},
      {"s": "CORG..BHE-0", "t": 59.0, "h": 0.06, "l": -0.07},
      {"s": "CORG..BHE-0", "t": 61.0, "h": 0.07, "l": -0.06},
      {"s": "CORG..BHE-0", "t": 63.0, "h": 0.06, "l": -0.07},
      {"s": "CORG..BHE-0", "t": 65.0, "h": 0.08, "l": -0.07},
      {"s": "CORG..BHE-0", "t": 66.5, "h": 0.12, "l": -0.1},
      {"s": "CORG..BHE-0", "t": 67.5, "h": 0.2, "l": -0.18},
      {"s": "CORG..BHE-0", "t": 68.5, "h": 0.3, "l": -0.25},
      {"s": "CORG..BHE-0", "t": 69.4, "h": 0.25, "l": -0.35},
      {"s": "CORG..BHE-0", "t": 70.3, "h": 0.4, "l": -0.3},
      {"s": "CORG..BHE-0", "t": 71.0, "h": 0.3, "l": -0.45},
      {"s": "CORG..BHE-0", "t": 71.6, "h": 0.55, "l": -0.65},
      {"s": "CORG..BHE-0", "t": 72.2, "h": 0.35, "l": -0.4},
      {"s": "CORG..BHE-0", "t": 72.9, "h": 0.42, "l": -0.3},
      {"s": "CORG..BHE-0", "t": 73.7, "h": 0.28, "l": -0.32},
      {"s": "CORG..BHE-0", "t": 74.6, "h": 0.3, "l": -0.22},
      {"s": "CORG..BHE-0", "t": 75.6, "h": 0.2, "l": -0.24},
      {"s": "CORG..BHE-0", "t": 76.7, "h": 0.22, "l": -0.16},
      {"s": "CORG..BHE-0", "t": 77.9, "h": 0.15, "l": -0.17},
      {"s": "CORG..BHE-0", "t": 79.5, "h": 0.16, "l": -0.12},
      {"s": "CORG..BHE-0", "t": 81.2, "h": 0.12, "l": -0.13},
      {"s": "CORG..BHE-0", "t": 83.0, "h": 0.13, "l": -0.09},
      {"s": "CORG..BHE-0", "t": 85.0, "h": 0.1, "l": -0.1},
      {"s": "CORG..BHE-0", "t": 87.0, "h": 0.11, "l": -0.08},
      {"s": "CORG..BHE-0", "t": 89.0, "h": 0.07, "l": -0.08},
      {"s": "CORG..BHE-0", "t": 91.0, "h": 0.04, "l": -0.04},
      {"s": "CORG..BHE-0", "t": 179.7, "h": 0.03, "l": -0.03},

      {"s": "CORG..BHN-0", "t": 0, "h": 0.1, "l": -0.1},
      {"s": "CORG..BHN-0", "t": 1.0, "h": 0.07, "l": -0.07},
      {"s": "CORG..BHN-0", "t": 2.0, "h": 0.2, "l": -0.18},
      {"s": "CORG..BHN-0", "t": 2.8, "h": 0.07, "l": -0.08},
      {"s": "CORG..BHN-0", "t": 4.5, "h": 0.1, "l": -0.08},
      {"s": "CORG..BHN-0", "t": 6.0, "h": 0.07, "l": -0.09},
      {"s": "CORG..BHN-0", "t": 7.5, "h": 0.22, "l": -0.2},
      {"s": "CORG..BHN-0", "t": 8.3, "h": 0.08, "l": -0.07},
      {"s": "CORG..BHN-0", "t": 10.0, "h": 0.1, "l": -0.09},
      {"s": "CORG..BHN-0", "t": 11.5, "h": 0.07, "l": -0.07},
      {"s": "CORG..BHN-0", "t": 13.0, "h": 0.18, "l": -0.16},
      {"s": "CORG..BHN-0", "t": 13.8, "h": 0.07, "l": -0.08},
      {"s": "CORG..BHN-0", "t": 15.5, "h": 0.09, "l": -0.08},
      {"s": "CORG..BHN-0", "t": 17.0, "h": 0.16, "l": -0.2},
      {"s": "CORG..BHN-0", "t": 17.8, "h": 0.07, "l": -0.07},
      {"s": "CORG..BHN-0", "t": 20.0, "h": 0.09, "l": -0.09},
      {"s": "CORG..BHN-0", "t": 22.0, "h": 0.07, "l": -0.07},
      {"s": "CORG..BHN-0", "t": 24.0, "h": 0.18, "l": -0.14},
      {"s": "CORG..BHN-0", "t": 24.8, "h": 0.07, "l": -0.08},
      {"s": "CORG..BHN-0", "t": 27.0, "h": 0.1, "l": -0.08},
      {"s": "CORG..BHN-0", "t": 29.0, "h": 0.07, "l": -0.09},
      {"s": "CORG..BHN-0", "t": 30.5, "h": 0.2, "l": -0.16},
      {"s": "CORG..BHN-0", "t": 31.3, "h": 0.08, "l": -0.07},
      {"s": "CORG..BHN-0", "t": 33.5, "h": 0.07, "l": -0.09},
      {"s": "CORG..BHN-0", "t": 35.5, "h": 0.1, "l": -0.08},
      {"s": "CORG..BHN-0", "t": 37.0, "h": 0.15, "l": -0.18},
      {"s": "CORG..BHN-0", "t": 37.8, "h": 0.07, "l": -0.07},
      {"s": "CORG..BHN-0", "t": 40.0, "h": 0.09, "l": -0.09},
      {"s": "CORG..BHN-0", "t": 42.0, "h": 0.07, "l": -0.07},
      {"s": "CORG..BHN-0", "t": 44.0, "h": 0.12, "l": -0.1},
      {"s": "CORG..BHN-0", "t": 46.5, "h": 0.16, "l": -0.14},
      {"s": "CORG..BHN-0", "t": 48.0, "h": 0.2, "l": -0.16},
      {"s": "CORG..BHN-0", "t": 49.5, "h": 0.14, "l": -0.18},
      {"s": "CORG..BHN-0", "t": 51.0, "h": 0.16, "l": -0.12},
      {"s": "CORG..BHN-0", "t": 52.5, "h": 0.12, "l": -0.14},
      {"s": "CORG..BHN-0", "t": 54.5, "h": 0.14, "l": -0.11},
      {"s": "CORG..BHN-0", "t": 56.5, "h": 0.1, "l": -0.12},
      {"s": "CORG..BHN-0", "t": 58.5, "h": 0.16, "l": -0.13},
      {"s": "CORG..BHN-0", "t": 60.5, "h": 0.12, "l": -0.1},
      {"s": "CORG..BHN-0", "t": 62.5, "h": 0.14, "l": -0.12},
      {"s": "CORG..BHN-0", "t": 64.5, "h": 0.2, "l": -0.15},
      {"s": "CORG..BHN-0", "t": 66.0, "h": 0.15, "l": -0.14},
      {"s": "CORG..BHN-0", "t": 67.5, "h": 0.22, "l": -0.2},
      {"s": "CORG..BHN-0", "t": 68.5, "h": 0.28, "l": -0.24},
      {"s": "CORG..BHN-0", "t": 69.5, "h": 0.22, "l": -0.3},
      {"s": "CORG..BHN-0", "t": 70.5, "h": 0.33, "l": -0.26},
      {"s": "CORG..BHN-0", "t": 71.5, "h": 0.25, "l": -0.3},
      {"s": "CORG..BHN-0", "t": 72.5, "h": 0.3, "l": -0.22},
      {"s": "CORG..BHN-0", "t": 73.5, "h": 0.2, "l": -0.24},
      {"s": "CORG..BHN-0", "t": 75.0, "h": 0.22, "l": -0.17},
      {"s": "CORG..BHN-0", "t": 76.5, "h": 0.16, "l": -0.18},
      {"s": "CORG..BHN-0", "t": 78.0, "h": 0.18, "l": -0.13},
      {"s": "CORG..BHN-0", "t": 80.0, "h": 0.13, "l": -0.14},
      {"s": "CORG..BHN-0", "t": 82.0, "h": 0.14, "l": -0.1},
      {"s": "CORG..BHN-0", "t": 84.0, "h": 0.1, "l": -0.11},
      {"s": "CORG..BHN-0", "t": 86.0, "h": 0.12, "l": -0.09},
      {"s": "CORG..BHN-0", "t": 88.0, "h": 0.09, "l": -0.1},
      {"s": "CORG..BHN-0", "t": 90.0, "h": 0.11, "l": -0.09},
      {"s": "CORG..BHN-0", "t": 92.0, "h": 0.08, "l": -0.07},
      {"s": "CORG..BHN-0", "t": 94.0, "h": 0.1, "l": -0.09},
      {"s": "CORG..BHN-0", "t": 96.0, "h": 0.14, "l": -0.12},
      {"s": "CORG..BHN-0", "t": 98.0, "h": 0.2, "l": -0.18},
      {"s": "CORG..BHN-0", "t": 99.0, "h": 0.12, "l": -0.15},
      {"s": "CORG..BHN-0", "t": 100.5, "h": 0.18, "l": -0.14},
      {"s": "CORG..BHN-0", "t": 102.0, "h": 0.1, "l": -0.11},
      {"s": "CORG..BHN-0", "t": 104.0, "h": 0.12, "l": -0.09},
      {"s": "CORG..BHN-0", "t": 106.0, "h": 0.08, "l": -0.1},
      {"s": "CORG..BHN-0", "t": 108.0, "h": 0.1, "l": -0.08},
      {"s": "CORG..BHN-0", "t": 110.0, "h": 0.07, "l": -0.08},
      {"s": "CORG..BHN-0", "t": 112.0, "h": 0.14, "l": -0.12},
      {"s": "CORG..BHN-0", "t": 114.0, "h": 0.08, "l": -0.07},
      {"s": "CORG..BHN-0", "t": 116.0, "h": 0.12, "l": -0.1},
      {"s": "CORG..BHN-0", "t": 118.0, "h": 0.07, "l": -0.08},
      {"s": "CORG..BHN-0", "t": 120.5, "h": 0.18, "l": -0.14},
      {"s": "CORG..BHN-0", "t": 121.5, "h": 0.08, "l": -0.07},
      {"s": "CORG..BHN-0", "t": 124.0, "h": 0.1, "l": -0.09},
      {"s": "CORG..BHN-0", "t": 126.5, "h": 0.14, "l": -0.12},
      {"s": "CORG..BHN-0", "t": 128.0, "h": 0.07, "l": -0.07},
      {"s": "CORG..BHN-0", "t": 130.5, "h": 0.12, "l": -0.1},
      {"s": "CORG..BHN-0", "t": 133.0, "h": 0.18, "l": -0.16},
      {"s": "CORG..BHN-0", "t": 134.0, "h": 0.08, "l": -0.08},
      {"s": "CORG..BHN-0", "t": 136.5, "h": 0.1, "l": -0.08},
      {"s": "CORG..BHN-0", "t": 139.0, "h": 0.15, "l": -0.12},
      {"s": "CORG..BHN-0", "t": 140.0, "h": 0.07, "l": -0.08},
      {"s": "CORG..BHN-0", "t": 142.5, "h": 0.09, "l": -0.08},
      {"s": "CORG..BHN-0", "t": 145.0, "h": 0.13, "l": -0.14},
      {"s": "CORG..BHN-0", "t": 146.0, "h": 0.07, "l": -0.07},
      {"s": "CORG..BHN-0", "t": 148.5, "h": 0.1, "l": -0.09},
      {"s": "CORG..BHN-0", "t": 151.0, "h": 0.16, "l": -0.12},
      {"s": "CORG..BHN-0", "t": 152.0, "h": 0.08, "l": -0.07},
      {"s": "CORG..BHN-0", "t": 154.5, "h": 0.07, "l": -0.09},
      {"s": "CORG..BHN-0", "t": 157.0, "h": 0.14, "l": -0.16},
      {"s": "CORG..BHN-0", "t": 158.0, "h": 0.07, "l": -0.07},
      {"s": "CORG..BHN-0", "t": 160.5, "h": 0.1, "l": -0.09},
      {"s": "CORG..BHN-0", "t": 163.0, "h": 0.12, "l": -0.1},
      {"s": "CORG..BHN-0", "t": 165.5, "h": 0.07, "l": -0.09},
      {"s": "CORG..BHN-0", "t": 168.0, "h": 0.15, "l": -0.13},
      {"s": "CORG..BHN-0", "t": 169.0, "h": 0.08, "l": -0.07},
      {"s": "CORG..BHN-0", "t": 171.5, "h": 0.1, "l": -0.09},
      {"s": "CORG..BHN-0", "t": 174.0, "h": 0.14, "l": -0.12},
      {"s": "CORG..BHN-0", "t": 175.0, "h": 0.07, "l": -0.07},
      {"s": "CORG..BHN-0", "t": 177.5, "h": 0.12, "l": -0.1},
      {"s": "CORG..BHN-0", "t": 179.7, "h": 0.08, "l": -0.08},

      {"s": "CORG..BHZ-0", "t": 0, "h": 0.03, "l": -0.03},
      {"s": "CORG..BHZ-0", "t": 46.0, "h": 0.03, "l": -0.03},
      {"s": "CORG..BHZ-0", "t": 46.7, "h": 0.2, "l": -0.15},
      {"s": "CORG..BHZ-0", "t": 47.3, "h": 0.28, "l": -0.2},
      {"s": "CORG..BHZ-0", "t": 48.0, "h": 0.2, "l": -0.22},
      {"s": "CORG..BHZ-0", "t": 48.8, "h": 0.25, "l": -0.16},
      {"s": "CORG..BHZ-0", "t": 49.7, "h": 0.16, "l": -0.2},
      {"s": "CORG..BHZ-0", "t": 50.6, "h": 0.2, "l": -0.14},
      {"s": "CORG..BHZ-0", "t": 51.6, "h": 0.14, "l": -0.16},
      {"s": "CORG..BHZ-0", "t": 52.7, "h": 0.16, "l": -0.11},
      {"s": "CORG..BHZ-0", "t": 54.0, "h": 0.11, "l": -0.13},
      {"s": "CORG..BHZ-0", "t": 55.3, "h": 0.12, "l": -0.09},
      {"s": "CORG..BHZ-0", "t": 57.0, "h": 0.08, "l": -0.09},
      {"s": "CORG..BHZ-0", "t": 59.0, "h": 0.09, "l": -0.07},
      {"s": "CORG..BHZ-0", "t": 61.0, "h": 0.07, "l": -0.08},
      {"s": "CORG..BHZ-0", "t": 63.0, "h": 0.08, "l": -0.07},
      {"s": "CORG..BHZ-0", "t": 65.0, "h": 0.1, "l": -0.08},
      {"s": "CORG..BHZ-0", "t": 66.5, "h": 0.14, "l": -0.12},
      {"s": "CORG..BHZ-0", "t": 67.5, "h": 0.2, "l": -0.18},
      {"s": "CORG..BHZ-0", "t": 68.5, "h": 0.26, "l": -0.22},
      {"s": "CORG..BHZ-0", "t": 69.4, "h": 0.22, "l": -0.3},
      {"s": "CORG..BHZ-0", "t": 70.3, "h": 0.32, "l": -0.25},
      {"s": "CORG..BHZ-0", "t": 71.2, "h": 0.4, "l": -0.37},
      {"s": "CORG..BHZ-0", "t": 72.0, "h": 0.3, "l": -0.34},
      {"s": "CORG..BHZ-0", "t": 72.9, "h": 0.35, "l": -0.26},
      {"s": "CORG..BHZ-0", "t": 73.8, "h": 0.24, "l": -0.28},
      {"s": "CORG..BHZ-0", "t": 74.8, "h": 0.27, "l": -0.19},
      {"s": "CORG..BHZ-0", "t": 75.9, "h": 0.18, "l": -0.2},
      {"s": "CORG..BHZ-0", "t": 77.0, "h": 0.2, "l": -0.14},
      {"s": "CORG..BHZ-0", "t": 78.3, "h": 0.13, "l": -0.15},
      {"s": "CORG..BHZ-0", "t": 80.0, "h": 0.14, "l": -0.1},
      {"s": "CORG..BHZ-0", "t": 82.0, "h": 0.09, "l": -0.1},
      {"s": "CORG..BHZ-0", "t": 84.0, "h": 0.1, "l": -0.07},
      {"s": "CORG..BHZ-0", "t": 86.0, "h": 0.04, "l": -0.04},
      {"s": "CORG..BHZ-0", "t": 179.7, "h": 0.03, "l": -0.03},

      {"s": "CSOR..BHE-0", "t": 0, "h": 0.5, "l": -0.05},
      {"s": "CSOR..BHE-0", "t": 0.4, "h": 0.03, "l": -0.03},
      {"s": "CSOR..BHE-0", "t": 42.0, "h": 0.03, "l": -0.03},
      {"s": "CSOR..BHE-0", "t": 42.8, "h": 0.14, "l": -0.12},
      {"s": "CSOR..BHE-0", "t": 43.6, "h": 0.19, "l": -0.15},
      {"s": "CSOR..BHE-0", "t": 44.5, "h": 0.13, "l": -0.19},
      {"s": "CSOR..BHE-0", "t": 45.5, "h": 0.17, "l": -0.12},
      {"s": "CSOR..BHE-0", "t": 46.6, "h": 0.12, "l": -0.15},
      {"s": "CSOR..BHE-0", "t": 47.7, "h": 0.15, "l": -0.1},
      {"s": "CSOR..BHE-0", "t": 48.9, "h": 0.1, "l": -0.13},
      {"s": "CSOR..BHE-0", "t": 50.2, "h": 0.13, "l": -0.1},
      {"s": "CSOR..BHE-0", "t": 51.6, "h": 0.1, "l": -0.11},
      {"s": "CSOR..BHE-0", "t": 53.2, "h": 0.11, "l": -0.09},
      {"s": "CSOR..BHE-0", "t": 54.8, "h": 0.09, "l": -0.1},
      {"s": "CSOR..BHE-0", "t": 56.4, "h": 0.11, "l": -0.09},
      {"s": "CSOR..BHE-0", "t": 58.0, "h": 0.12, "l": -0.1},
      {"s": "CSOR..BHE-0", "t": 59.5, "h": 0.15, "l": -0.12},
      {"s": "CSOR..BHE-0", "t": 60.8, "h": 0.2, "l": -0.18},
      {"s": "CSOR..BHE-0", "t": 61.8, "h": 0.28, "l": -0.25},
      {"s": "CSOR..BHE-0", "t": 62.8, "h": 0.25, "l": -0.35},
      {"s": "CSOR..BHE-0", "t": 63.7, "h": 0.4, "l": -0.3},
      {"s": "CSOR..BHE-0", "t": 64.5, "h": 0.35, "l": -0.5},
      {"s": "CSOR..BHE-0", "t": 65.2, "h": 0.55, "l": -0.45},
      {"s": "CSOR..BHE-0", "t": 65.9, "h": 0.5, "l": -0.65},
      {"s": "CSOR..BHE-0", "t": 66.5, "h": 0.89, "l": -0.6},
      {"s": "CSOR..BHE-0", "t": 67.1, "h": 0.6, "l": -0.78},
      {"s": "CSOR..BHE-0", "t": 67.7, "h": 0.7, "l": -0.55},
      {"s": "CSOR..BHE-0", "t": 68.3, "h": 0.5, "l": -0.62},
      {"s": "CSOR..BHE-0", "t": 69.0, "h": 0.55, "l": -0.42},
      {"s": "CSOR..BHE-0", "t": 69.7, "h": 0.4, "l": -0.46},
      {"s": "CSOR..BHE-0", "t": 70.5, "h": 0.42, "l": -0.3},
      {"s": "CSOR..BHE-0", "t": 71.4, "h": 0.3, "l": -0.33},
      {"s": "CSOR..BHE-0", "t": 72.4, "h": 0.3, "l": -0.22},
      {"s": "CSOR..BHE-0", "t": 73.5, "h": 0.2, "l": -0.23},
      {"s": "CSOR..BHE-0", "t": 74.7, "h": 0.22, "l": -0.16},
      {"s": "CSOR..BHE-0", "t": 76.0, "h": 0.18, "l": -0.2},
      {"s": "CSOR..BHE-0", "t": 77.3, "h": 0.2, "l": -0.14},
      {"s": "CSOR..BHE-0", "t": 78.6, "h": 0.14, "l": -0.16},
      {"s": "CSOR..BHE-0", "t": 80.0, "h": 0.15, "l": -0.11},
      {"s": "CSOR..BHE-0", "t": 81.5, "h": 0.1, "l": -0.11},
      {"s": "CSOR..BHE-0", "t": 83.0, "h": 0.1, "l": -0.08},
      {"s": "CSOR..BHE-0", "t": 85.0, "h": 0.07, "l": -0.07},
      {"s": "CSOR..BHE-0", "t": 87.0, "h": 0.03, "l": -0.03},
      {"s": "CSOR..BHE-0", "t": 179.7, "h": 0.03, "l": -0.03},

      {"s": "CSOR..BHN-0", "t": 0, "h": 0.03, "l": -0.03},
      {"s": "CSOR..BHN-0", "t": 42.5, "h": 0.03, "l": -0.03},
      {"s": "CSOR..BHN-0", "t": 43.3, "h": 0.14, "l": -0.15},
      {"s": "CSOR..BHN-0", "t": 44.0, "h": 0.18, "l": -0.2},
      {"s": "CSOR..BHN-0", "t": 44.8, "h": 0.12, "l": -0.22},
      {"s": "CSOR..BHN-0", "t": 45.7, "h": 0.16, "l": -0.14},
      {"s": "CSOR..BHN-0", "t": 46.7, "h": 0.11, "l": -0.16},
      {"s": "CSOR..BHN-0", "t": 47.8, "h": 0.14, "l": -0.1},
      {"s": "CSOR..BHN-0", "t": 49.0, "h": 0.1, "l": -0.12},
      {"s": "CSOR..BHN-0", "t": 50.3, "h": 0.12, "l": -0.09},
      {"s": "CSOR..BHN-0", "t": 51.7, "h": 0.09, "l": -0.1},
      {"s": "CSOR..BHN-0", "t": 53.2, "h": 0.1, "l": -0.08},
      {"s": "CSOR..BHN-0", "t": 54.8, "h": 0.08, "l": -0.09},
      {"s": "CSOR..BHN-0", "t": 56.4, "h": 0.1, "l": -0.08},
      {"s": "CSOR..BHN-0", "t": 58.0, "h": 0.11, "l": -0.1},
      {"s": "CSOR..BHN-0", "t": 59.5, "h": 0.14, "l": -0.12},
      {"s": "CSOR..BHN-0", "t": 60.8, "h": 0.18, "l": -0.15},
      {"s": "CSOR..BHN-0", "t": 61.8, "h": 0.24, "l": -0.22},
      {"s": "CSOR..BHN-0", "t": 62.8, "h": 0.22, "l": -0.3},
      {"s": "CSOR..BHN-0", "t": 63.7, "h": 0.32, "l": -0.26},
      {"s": "CSOR..BHN-0", "t": 64.5, "h": 0.28, "l": -0.38},
      {"s": "CSOR..BHN-0", "t": 65.2, "h": 0.42, "l": -0.35},
      {"s": "CSOR..BHN-0", "t": 65.9, "h": 0.38, "l": -0.5},
      {"s": "CSOR..BHN-0", "t": 66.5, "h": 0.61, "l": -0.45},
      {"s": "CSOR..BHN-0", "t": 67.1, "h": 0.45, "l": -0.6},
      {"s": "CSOR..BHN-0", "t": 67.7, "h": 0.5, "l": -0.4},
      {"s": "CSOR..BHN-0", "t": 68.3, "h": 0.38, "l": -0.45},
      {"s": "CSOR..BHN-0", "t": 69.0, "h": 0.4, "l": -0.3},
      {"s": "CSOR..BHN-0", "t": 69.8, "h": 0.3, "l": -0.34},
      {"s": "CSOR..BHN-0", "t": 70.7, "h": 0.32, "l": -0.23},
      {"s": "CSOR..BHN-0", "t": 71.7, "h": 0.22, "l": -0.25},
      {"s": "CSOR..BHN-0", "t": 72.8, "h": 0.24, "l": -0.17},
      {"s": "CSOR..BHN-0", "t": 74.0, "h": 0.17, "l": -0.19},
      {"s": "CSOR..BHN-0", "t": 75.3, "h": 0.18, "l": -0.13},
      {"s": "CSOR..BHN-0", "t": 76.8, "h": 0.14, "l": -0.15},
      {"s": "CSOR..BHN-0", "t": 78.3, "h": 0.15, "l": -0.11},
      {"s": "CSOR..BHN-0", "t": 80.0, "h": 0.11, "l": -0.12},
      {"s": "CSOR..BHN-0", "t": 82.0, "h": 0.09, "l": -0.08},
      {"s": "CSOR..BHN-0", "t": 84.2, "h": 0.03, "l": -0.03},
      {"s": "CSOR..BHN-0", "t": 179.7, "h": 0.03, "l": -0.03},

      {"s": "CSOR..BHZ-0", "t": 0, "h": 0.03, "l": -0.03},
      {"s": "CSOR..BHZ-0", "t": 42.5, "h": 0.03, "l": -0.03},
      {"s": "CSOR..BHZ-0", "t": 43.3, "h": 0.12, "l": -0.12},
      {"s": "CSOR..BHZ-0", "t": 44.0, "h": 0.17, "l": -0.15},
      {"s": "CSOR..BHZ-0", "t": 44.8, "h": 0.12, "l": -0.18},
      {"s": "CSOR..BHZ-0", "t": 45.7, "h": 0.16, "l": -0.12},
      {"s": "CSOR..BHZ-0", "t": 46.7, "h": 0.11, "l": -0.15},
      {"s": "CSOR..BHZ-0", "t": 47.8, "h": 0.14, "l": -0.1},
      {"s": "CSOR..BHZ-0", "t": 49.0, "h": 0.1, "l": -0.12},
      {"s": "CSOR..BHZ-0", "t": 50.3, "h": 0.12, "l": -0.09},
      {"s": "CSOR..BHZ-0", "t": 51.7, "h": 0.09, "l": -0.1},
      {"s": "CSOR..BHZ-0", "t": 53.2, "h": 0.1, "l": -0.08},
      {"s": "CSOR..BHZ-0", "t": 54.8, "h": 0.08, "l": -0.09},
      {"s": "CSOR..BHZ-0", "t": 56.4, "h": 0.09, "l": -0.08},
      {"s": "CSOR..BHZ-0", "t": 58.0, "h": 0.08, "l": -0.09},
      {"s": "CSOR..BHZ-0", "t": 59.5, "h": 0.1, "l": -0.08},
      {"s": "CSOR..BHZ-0", "t": 61.0, "h": 0.12, "l": -0.1},
      {"s": "CSOR..BHZ-0", "t": 62.3, "h": 0.16, "l": -0.13},
      {"s": "CSOR..BHZ-0", "t": 63.5, "h": 0.2, "l": -0.18},
      {"s": "CSOR..BHZ-0", "t": 64.5, "h": 0.18, "l": -0.25},
      {"s": "CSOR..BHZ-0", "t": 65.4, "h": 0.3, "l": -0.22},
      {"s": "CSOR..BHZ-0", "t": 66.1, "h": 0.25, "l": -0.35},
      {"s": "CSOR..BHZ-0", "t": 66.7, "h": 0.55, "l": -0.46},
      {"s": "CSOR..BHZ-0", "t": 67.3, "h": 0.35, "l": -0.4},
      {"s": "CSOR..BHZ-0", "t": 68.0, "h": 0.4, "l": -0.28},
      {"s": "CSOR..BHZ-0", "t": 68.7, "h": 0.26, "l": -0.3},
      {"s": "CSOR..BHZ-0", "t": 69.5, "h": 0.28, "l": -0.2},
      {"s": "CSOR..BHZ-0", "t": 70.4, "h": 0.18, "l": -0.2},
      {"s": "CSOR..BHZ-0", "t": 71.5, "h": 0.18, "l": -0.13},
      {"s": "CSOR..BHZ-0", "t": 72.8, "h": 0.12, "l": -0.13},
      {"s": "CSOR..BHZ-0", "t": 74.2, "h": 0.12, "l": -0.09},
      {"s": "CSOR..BHZ-0", "t": 76.0, "h": 0.08, "l": -0.09},
      {"s": "CSOR..BHZ-0", "t": 78.0, "h": 0.07, "l": -0.06},
      {"s": "CSOR..BHZ-0", "t": 80.0, "h": 0.03, "l": -0.03},
      {"s": "CSOR..BHZ-0", "t": 179.7, "h": 0.03, "l": -0.03}
    ],
    "ticks": [
      {"t": 10, "major": false}, {"t": 20, "major": false}, {"t": 30, "major": false},
      {"t": 40, "major": false}, {"t": 50, "major": false}, {"t": 60, "major": true, "lab": "1"},
      {"t": 70, "major": false}, {"t": 80, "major": false}, {"t": 90, "major": false},
      {"t": 100, "major": false}, {"t": 110, "major": false}, {"t": 120, "major": true, "lab": "2"},
      {"t": 130, "major": false}, {"t": 140, "major": false}, {"t": 150, "major": false},
      {"t": 160, "major": false}, {"t": 170, "major": false}
    ]
  },
  "spacing": 0,
  "vconcat": [
    {
      "data": {"name": "traces"},
      "bounds": "flush",
      "facet": {
        "row": {
          "field": "s",
          "type": "nominal",
          "header": null,
          "sort": ["CAVN..BHE-0", "CAVN..BHN-0", "CAVN..BHZ-0", "CBRU..BHE-0", "CBRU..BHN-0", "CBRU..BHZ-0", "CFON..BHE-0", "CFON..BHN-0", "CFON..BHZ-0", "CLLI..BHE-0", "CLLI..BHN-0", "CLLI..BHZ-0", "CORG..BHE-0", "CORG..BHN-0", "CORG..BHZ-0", "CSOR..BHE-0", "CSOR..BHN-0", "CSOR..BHZ-0"]
        }
      },
      "spacing": {"row": 0},
      "spec": {
        "width": 636,
        "height": 43,
        "layer": [
          {
            "transform": [{"filter": "isValid(datum.t)"}],
            "mark": {"type": "area", "color": "#111111", "interpolate": "linear"},
            "encoding": {
              "x": {"field": "t", "type": "quantitative", "scale": {"domain": [-20.1, 179.7], "nice": false, "zero": false}, "axis": null},
              "y": {"field": "h", "type": "quantitative", "scale": {"domain": [-1.2, 1.2], "nice": false, "zero": false}, "axis": null},
              "y2": {"field": "l"}
            }
          },
          {
            "transform": [{"filter": "isValid(datum.n)"}],
            "layer": [
              {"mark": {"type": "rule", "color": "#aaaaaa", "strokeWidth": 1}, "encoding": {"x": {"datum": 0, "type": "quantitative"}}},
              {"mark": {"type": "rule", "color": "#aaaaaa", "strokeWidth": 1}, "encoding": {"x": {"datum": -20.1, "type": "quantitative"}}},
              {"mark": {"type": "rule", "color": "#aaaaaa", "strokeWidth": 1}, "encoding": {"x": {"datum": 179.7, "type": "quantitative"}}},
              {"mark": {"type": "rule", "color": "#aaaaaa", "strokeWidth": 1}, "encoding": {"x": {"datum": -20.1, "type": "quantitative"}, "x2": {"datum": 0}, "y": {"datum": 1.2, "type": "quantitative"}}},
              {
                "transform": [{"filter": "datum.s == 'CAVN..BHE-0'"}],
                "mark": {"type": "rule", "color": "#aaaaaa", "strokeWidth": 1},
                "encoding": {"x": {"datum": -20.1, "type": "quantitative"}, "x2": {"datum": 179.7}, "y": {"datum": 1.2, "type": "quantitative"}}
              },
              {
                "mark": {"type": "text", "align": "left", "baseline": "middle", "fontSize": 7.7, "color": "#666666"},
                "encoding": {"x": {"datum": -19.6, "type": "quantitative"}, "y": {"datum": 0, "type": "quantitative"}, "text": {"field": "s", "type": "nominal"}}
              },
              {
                "mark": {"type": "text", "align": "left", "baseline": "middle", "fontSize": 7.5, "color": "#222222"},
                "encoding": {"x": {"datum": 6.9, "type": "quantitative"}, "y": {"datum": 0.88, "type": "quantitative"}, "text": {"field": "n", "type": "nominal"}}
              }
            ]
          }
        ]
      }
    },
    {
      "width": 636,
      "height": 23,
      "view": {"stroke": "#aaaaaa"},
      "layer": [
        {
          "data": {"name": "ticks"},
          "transform": [{"filter": "!datum.major"}],
          "mark": {"type": "rule", "color": "#999999"},
          "encoding": {
            "x": {"field": "t", "type": "quantitative", "scale": {"domain": [-20.1, 179.7], "nice": false, "zero": false}, "axis": null},
            "y": {"datum": 0, "type": "quantitative", "scale": {"domain": [0, 1], "nice": false}, "axis": null},
            "y2": {"datum": 0.2}
          }
        },
        {
          "data": {"name": "ticks"},
          "transform": [{"filter": "datum.major"}],
          "mark": {"type": "rule", "color": "#999999"},
          "encoding": {"x": {"field": "t", "type": "quantitative"}}
        },
        {
          "data": {"name": "ticks"},
          "transform": [{"filter": "datum.major"}],
          "mark": {"type": "text", "align": "left", "baseline": "alphabetic", "dx": 2, "fontSize": 16.5, "color": "black"},
          "encoding": {"x": {"field": "t", "type": "quantitative"}, "y": {"datum": 0.15, "type": "quantitative"}, "text": {"field": "lab", "type": "nominal"}}
        },
        {
          "data": {"values": [{}]},
          "mark": {"type": "rule", "color": "#aaaaaa"},
          "encoding": {"x": {"datum": 0, "type": "quantitative"}}
        },
        {
          "data": {"values": [{}]},
          "mark": {"type": "text", "align": "left", "baseline": "alphabetic", "fontSize": 16.5, "color": "black"},
          "encoding": {"x": {"datum": -19.6, "type": "quantitative"}, "y": {"datum": 0.15, "type": "quantitative"}, "text": {"value": "minute"}}
        }
      ]
    }
  ]
}
